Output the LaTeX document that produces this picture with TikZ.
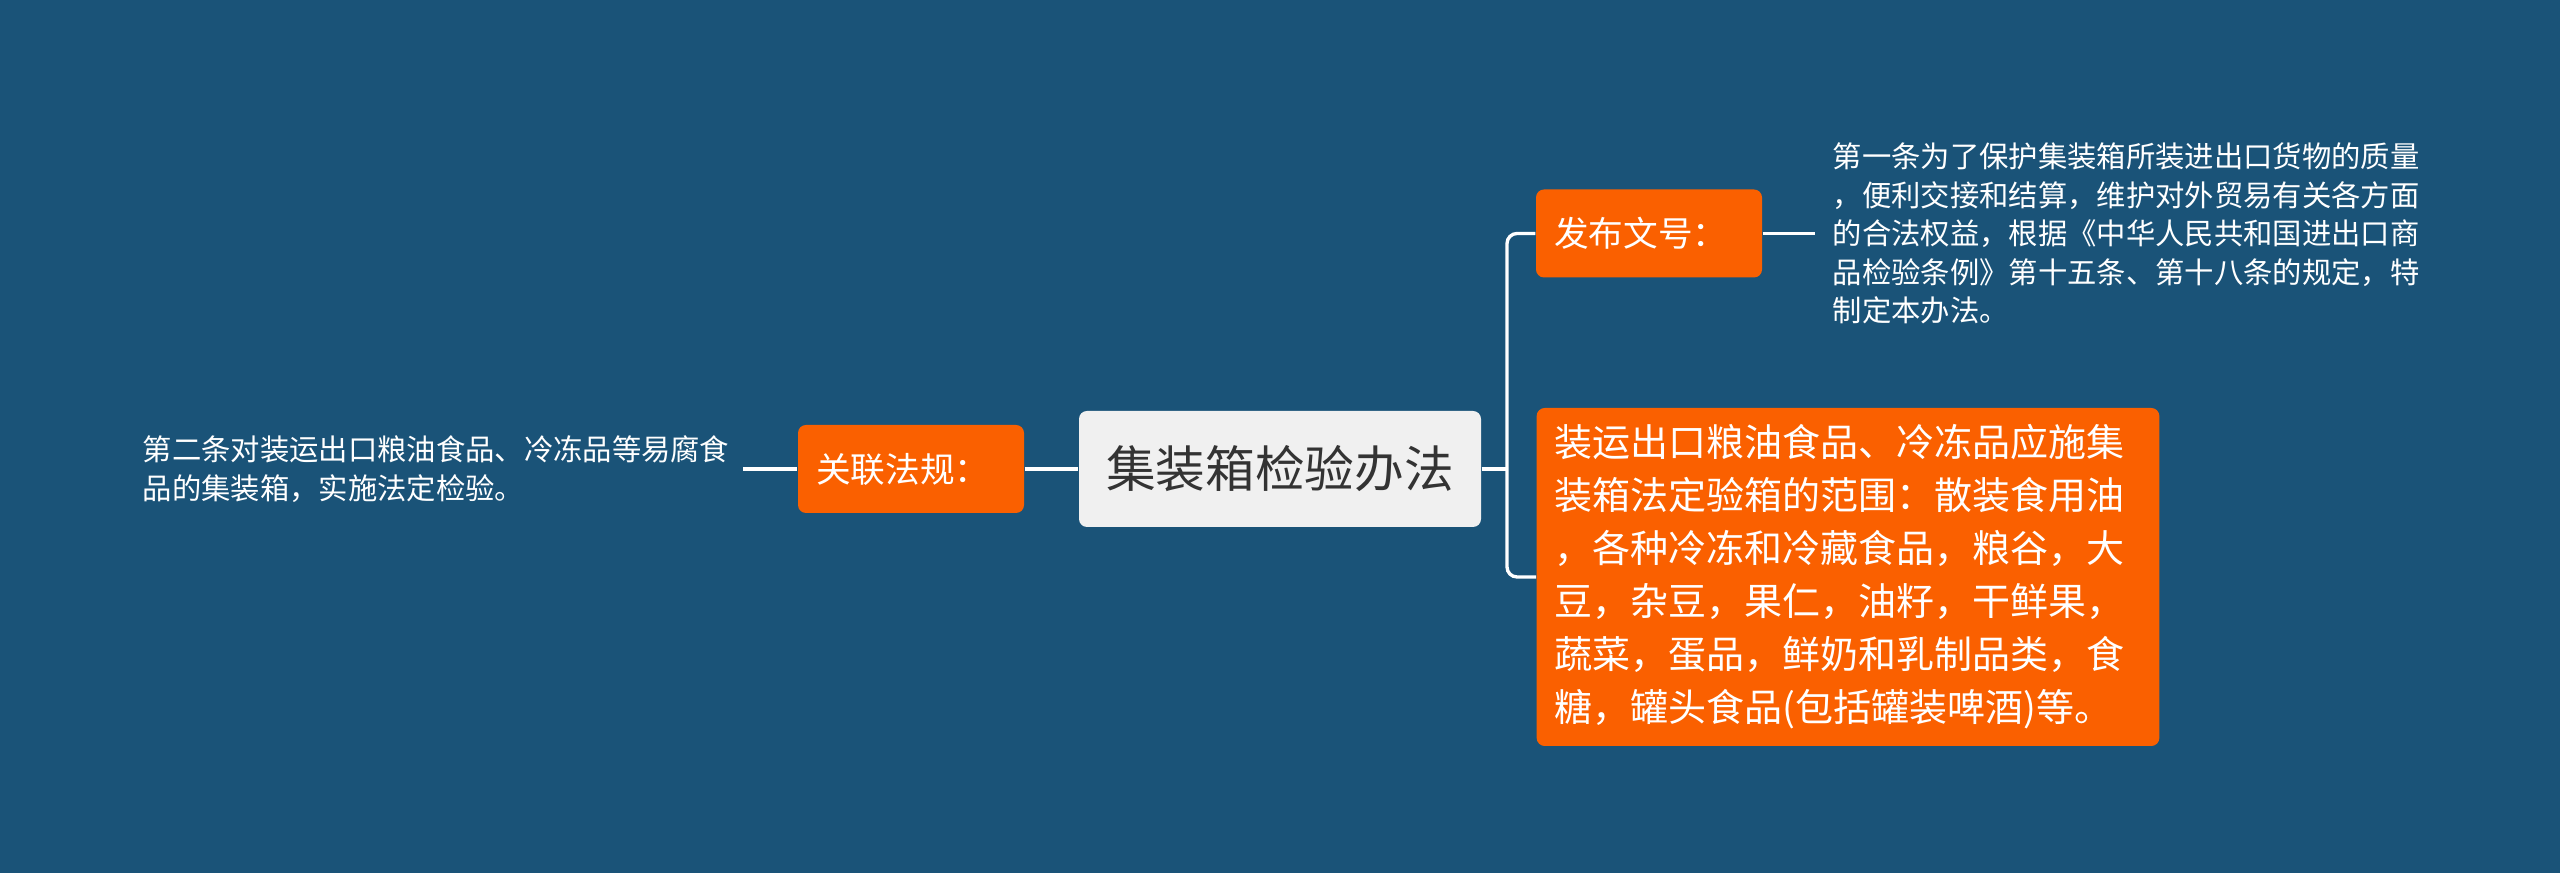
\documentclass[tikz,border=0pt]{standalone}
\usepackage{fontspec}
\newfontfamily\cjk{Noto Sans CJK SC}
\usetikzlibrary{positioning}

\definecolor{bgblue}{RGB}{26,83,120}
\definecolor{leaforange}{RGB}{250,96,0}
\definecolor{topicgray}{RGB}{240,240,240}
\definecolor{topictext}{RGB}{51,51,51}

\begin{document}
\begin{tikzpicture}[
    x=0.3pt, y=-0.3pt,
    topic/.style={rectangle, fill=topicgray, rounded corners=2.4pt, minimum width=120.6pt, minimum height=34.8pt, text=topictext, font=\cjk\fontsize{14.9pt}{18pt}\selectfont},
    branch/.style={rectangle, fill=leaforange, rounded corners=2.4pt, text width=57pt, inner xsep=5.4pt, minimum height=26.4pt, align=left, text=white, font=\cjk\fontsize{10.4pt}{12pt}\selectfont},
    bigleaf/.style={rectangle, fill=leaforange, rounded corners=2.4pt, text width=176pt, inner xsep=5.4pt, minimum height=101.4pt, align=left, text=white, font=\cjk\fontsize{11.4pt}{15.9pt}\selectfont},
    note/.style={text=white, align=left, inner ysep=0pt, font=\cjk\fontsize{8.8pt}{11.55pt}\selectfont},
    link/.style={draw=white, line width=1pt}
]

% Background
\fill[bgblue] (0,0) rectangle (2560,873);

% === Centre ===
\node[topic] (main) at (1280,469) {集装箱检验办法};

% === Left side ===
\node[branch] (rel) at (911,469) {关联法规：};
\node[note, anchor=east, inner xsep=3.9pt] (reltext) at (743,469)
    {第二条对装运出口粮油食品、冷冻品等易腐食\\品的集装箱，实施法定检验。};

% === Right side ===
\node[branch] (pub) at (1649,233.5) {发布文号：};
\node[note, anchor=west, inner xsep=5.1pt] (pubtext) at (1815,233.5)
    {第一条为了保护集装箱所装进出口货物的质量\\
     ，便利交接和结算，维护对外贸易有关各方面\\
     的合法权益，根据《中华人民共和国进出口商\\
     品检验条例》第十五条、第十八条的规定，特\\
     制定本办法。};
\node[bigleaf] (scope) at (1848,577)
    {装运出口粮油食品、冷冻品应施集\\
     装箱法定验箱的范围：散装食用油\\
     ，各种冷冻和冷藏食品，粮谷，大\\
     豆，杂豆，果仁，油籽，干鲜果，\\
     蔬菜，蛋品，鲜奶和乳制品类，食\\
     糖，罐头食品(包括罐装啤酒)等。};

% Connectors
\coordinate (fork) at (1507,469);
\draw[link] (reltext.east) -- (rel.west);
\draw[link] (rel.east) -- (main.west);
\draw[link] (main.east) -- (fork);
\draw[link, rounded corners=3pt] (pub.west) -| (fork) |- (scope.west);
\draw[link] (pub.east) -- (pubtext.west);

\end{tikzpicture}
\end{document}
